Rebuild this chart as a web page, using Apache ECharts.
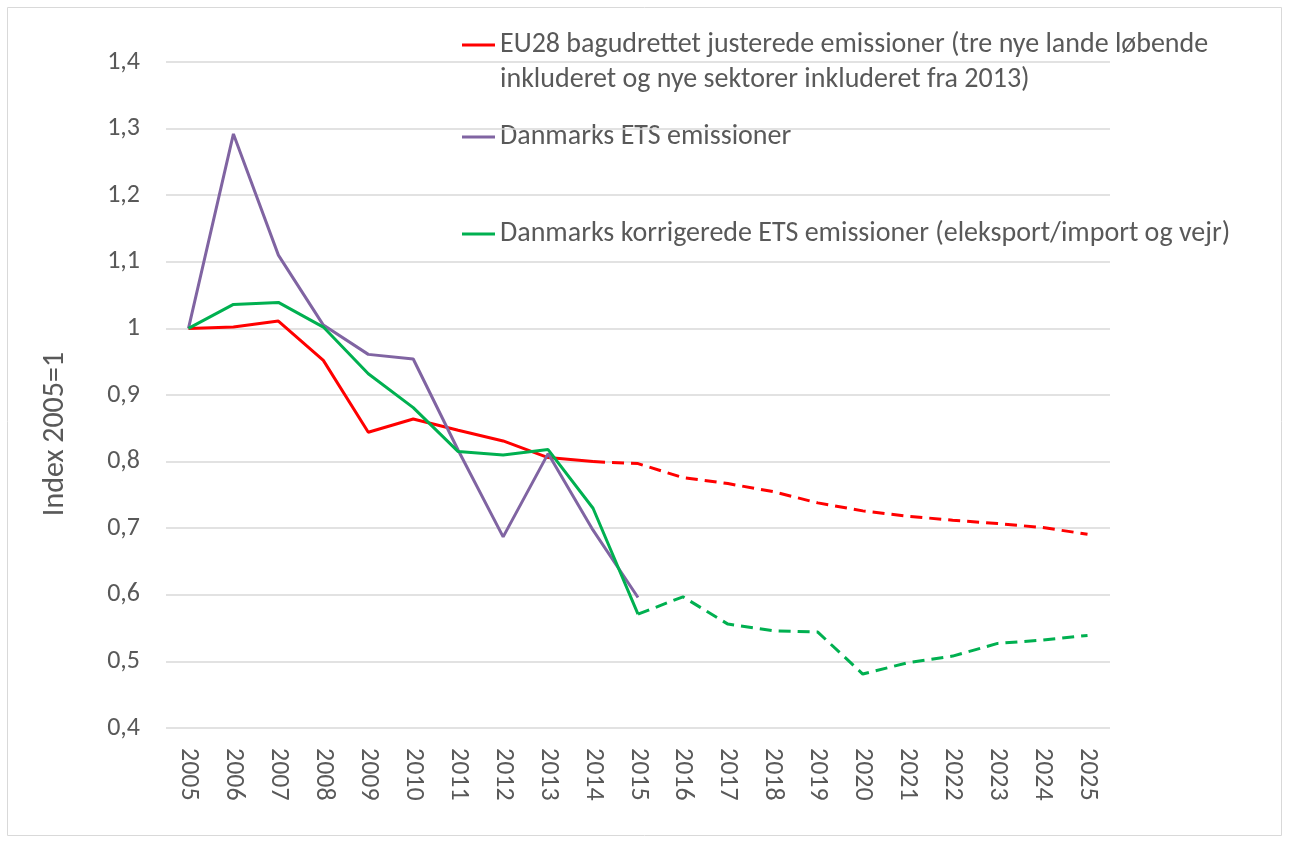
<!DOCTYPE html>
<html>
<head>
<meta charset="utf-8">
<script src="https://cdn.jsdelivr.net/npm/echarts@6/dist/echarts.min.js"></script>
<style>
  html, body { margin: 0; padding: 0; background: #fff; }
  #main { width: 1289px; height: 843px; }
</style>
</head>
<body>
<div id="main"></div>
<script>
// år
const years = ['2005','2006','2007','2008','2009','2010','2011','2012','2013','2014','2015',
  '2016','2017','2018','2019','2020','2021','2022','2023','2024','2025'];
// EU28 bagudrettet justerede emissioner
const eu28 = [1.0, 1.002, 1.011, 0.952, 0.844, 0.864, 0.847, 0.831, 0.806, 0.800, 0.797,
  0.776, 0.767, 0.755, 0.738, 0.726, 0.718, 0.712, 0.707, 0.701, 0.691];
// Danmarks ETS emissioner
const dkEts = [1.0, 1.292, 1.110, 1.005, 0.961, 0.954, 0.817, 0.687, 0.812, 0.697, 0.596,
  null, null, null, null, null, null, null, null, null, null];
// Danmarks korrigerede ETS emissioner
const dkKorr = [1.0, 1.036, 1.039, 1.002, 0.932, 0.881, 0.815, 0.810, 0.818, 0.730, 0.571,
  0.597, 0.556, 0.546, 0.544, 0.481, 0.498, 0.508, 0.527, 0.532, 0.539];
// sidste år med fuld linje (resten stiplet)
const euSolidEnd = 9;   // 2014
const korrSolidEnd = 10; // 2015

const red = '#ff0000', purple = '#8064a2', green = '#00b050';
const font = 'Carlito, Lato, sans-serif';
const textGray = '#595959';

function part(arr, from, to) {
  return arr.map((v, i) => (i >= from && i <= to ? v : null));
}

const chart = echarts.init(document.getElementById('main'));
chart.setOption({
  animation: false,
  grid: { left: 166, right: 179, top: 62, bottom: 115 },
  xAxis: {
    type: 'category',
    data: years,
    boundaryGap: true,
    axisLine: { show: false },
    axisTick: { show: false },
    axisLabel: { rotate: -90, color: textGray, fontSize: 26, fontFamily: font, margin: 20 }
  },
  yAxis: {
    type: 'value',
    min: 0.4,
    max: 1.4,
    interval: 0.1,
    axisLine: { show: false },
    axisTick: { show: false },
    splitLine: { lineStyle: { color: '#d9d9d9', width: 1.5 } },
    axisLabel: {
      color: textGray, fontSize: 26, fontFamily: font, margin: 26,
      formatter: v => String(Math.round(v * 10) / 10).replace('.', ',')
    }
  },
  graphic: [
    { type: 'rect', shape: { x: 7.5, y: 7.5, width: 1274, height: 828 },
      style: { fill: null, stroke: '#d9d9d9', lineWidth: 1 }, silent: true },
    { type: 'text', x: 55, y: 434, rotation: Math.PI / 2,
      style: { text: 'Index 2005=1', fill: textGray, font: '30px ' + font,
        textAlign: 'center', textVerticalAlign: 'middle' } },
    { type: 'line', shape: { x1: 462, y1: 45, x2: 495, y2: 45 }, style: { stroke: red, lineWidth: 3 } },
    { type: 'text', x: 500, y: 27.5,
      style: { text: 'EU28 bagudrettet justerede emissioner (tre nye lande løbende\ninkluderet og nye sektorer inkluderet fra 2013)',
        fill: textGray, font: '28px ' + font, lineHeight: 35, textVerticalAlign: 'top' } },
    { type: 'line', shape: { x1: 462, y1: 137, x2: 495, y2: 137 }, style: { stroke: purple, lineWidth: 3 } },
    { type: 'text', x: 500, y: 137,
      style: { text: 'Danmarks ETS emissioner', fill: textGray, font: '28px ' + font,
        textVerticalAlign: 'middle' } },
    { type: 'line', shape: { x1: 462, y1: 234, x2: 495, y2: 234 }, style: { stroke: green, lineWidth: 3 } },
    { type: 'text', x: 500, y: 234,
      style: { text: 'Danmarks korrigerede ETS emissioner (eleksport/import og vejr)', fill: textGray,
        font: '28px ' + font, textVerticalAlign: 'middle' } }
  ],
  series: [
    { name: 'EU28', type: 'line', data: part(eu28, 0, euSolidEnd), symbol: 'none',
      lineStyle: { color: red, width: 3 }, z: 2 },
    { name: 'EU28 fremskrivning', type: 'line', data: part(eu28, euSolidEnd, years.length - 1), symbol: 'none',
      lineStyle: { color: red, width: 3, type: [12, 7] }, z: 2 },
    { name: 'Danmarks ETS emissioner', type: 'line', data: dkEts, symbol: 'none',
      lineStyle: { color: purple, width: 3 }, z: 3 },
    { name: 'Korrigerede', type: 'line', data: part(dkKorr, 0, korrSolidEnd), symbol: 'none',
      lineStyle: { color: green, width: 3 }, z: 4 },
    { name: 'Korrigerede fremskrivning', type: 'line', data: part(dkKorr, korrSolidEnd, years.length - 1), symbol: 'none',
      lineStyle: { color: green, width: 3, type: [12, 7] }, z: 4 }
  ]
});
</script>
</body>
</html>
